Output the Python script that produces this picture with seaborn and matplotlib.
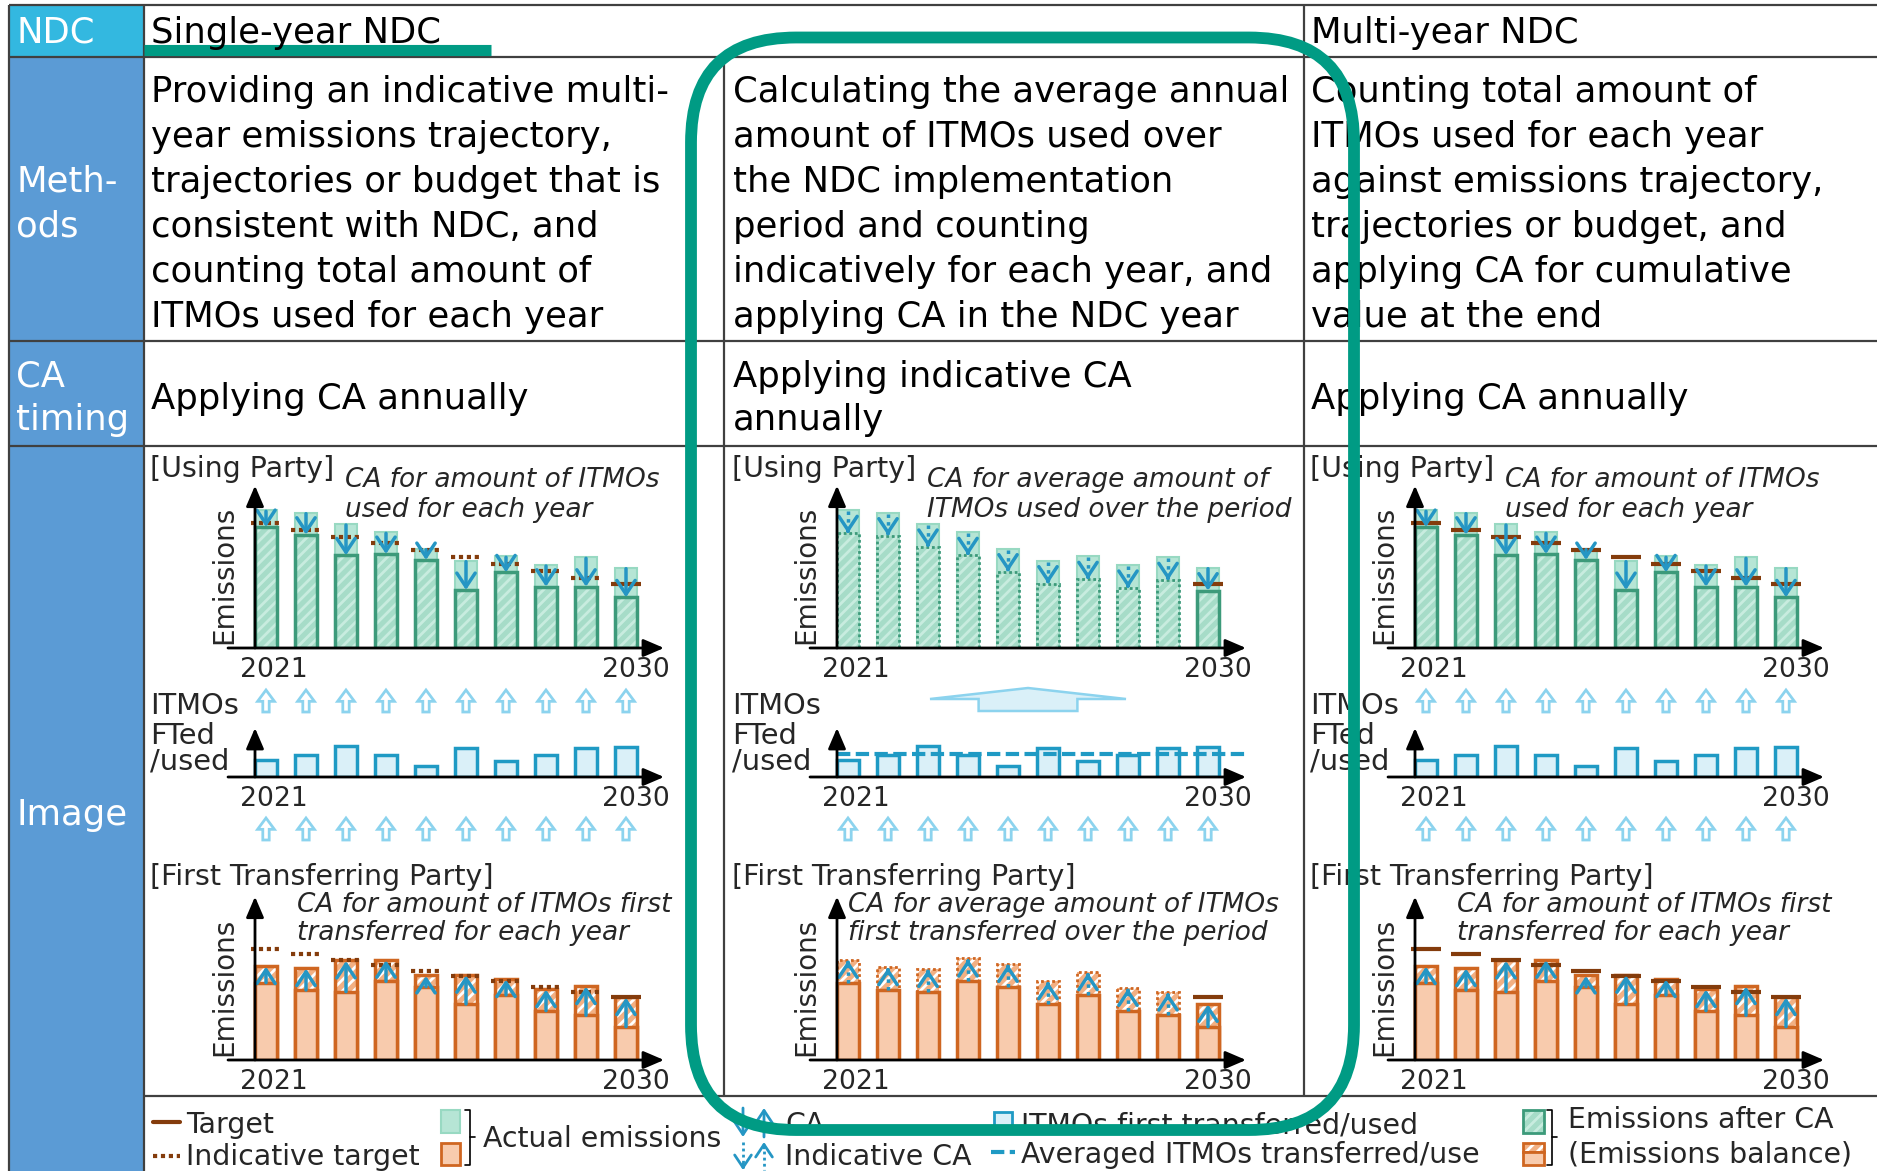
import matplotlib
matplotlib.use("Agg")
import matplotlib.pyplot as plt
from matplotlib.patches import FancyBboxPatch, FancyArrow, Rectangle
import numpy as np
import pandas as pd
import seaborn as sns

sns.set_style("white")
plt.rcParams['font.family'] = ['DejaVu Sans']
plt.rcParams['hatch.linewidth'] = 2.0

W, H = 1877, 1171

# ---- data ----
years = ['2021', '2022', '2023', '2024', '2025', '2026', '2027', '2028', '2029', '2030']
itmos = [5.0, 6.6, 9.4, 6.5, 3.4, 8.8, 4.8, 6.5, 8.8, 8.9]
using_actual = [41.3, 40.6, 37.2, 34.7, 29.8, 26.2, 27.5, 24.9, 27.2, 24.1]
using_target = [37.5, 35.5, 33.4, 31.4, 29.4, 27.3, 25.2, 23.2, 21.1, 19.1]
transfer_actual = [23.2, 21.0, 20.5, 23.6, 22.0, 16.8, 19.5, 14.8, 13.4, 10.0]
transfer_target = [33.3, 31.7, 30.0, 28.4, 26.7, 25.2, 23.6, 22.0, 20.5, 19.0]

row_labels = ['NDC', ['Meth-', 'ods'], ['CA', 'timing'], 'Image']
ndc_types = ['Single-year NDC', 'Multi-year NDC']
methods = [
    ['Providing an indicative multi-', 'year emissions trajectory,', 'trajectories or budget that is',
     'consistent with NDC, and', 'counting total amount of', 'ITMOs used for each year'],
    ['Calculating the average annual', 'amount of ITMOs used over', 'the NDC implementation',
     'period and counting', 'indicatively for each year, and', 'applying CA in the NDC year'],
    ['Counting total amount of', 'ITMOs used for each year', 'against emissions trajectory,',
     'trajectories or budget, and', 'applying CA for cumulative', 'value at the end'],
]
ca_timing = [['Applying CA annually'], ['Applying indicative CA', 'annually'], ['Applying CA annually']]
using_notes = [['CA for amount of ITMOs', 'used for each year'],
               ['CA for average amount of', 'ITMOs used over the period'],
               ['CA for amount of ITMOs', 'used for each year']]
transfer_notes = [['CA for amount of ITMOs first', 'transferred for each year'],
                  ['CA for average amount of ITMOs', 'first transferred over the period'],
                  ['CA for amount of ITMOs first', 'transferred for each year']]
modes = ['annual', 'average', 'cumulative']

# ---- colours ----
TEAL = '#009B84'
CYAN = '#33B8E0'
STEEL = '#5B9BD5'
GRID = '#404040'
MINT_LIGHT = '#B6E5D5'
MINT_LIGHT_EDGE = '#98D9C2'
MINT = '#A6DCC8'
MINT_HATCH = '#C8ECDF'
MINT_DARK = '#3C9A7A'
PEACH = '#F8CBAD'
PEACH_DARK = '#F2B083'
ORANGE = '#CF6621'
BROWN = '#843C0C'
BLUE = '#2596C4'
ICE = '#DAF0F8'
ICE_EDGE = '#1F9AC4'
SKY = '#8CD3EE'

BAR_W = 0.55
BAR_X0 = [266, 848, 1426]
UNIT_X = 40.0
UNIT_Y = 10 / 3
XLIM = (-1.05, 10.1)
YAX = -0.275
PT = 0.72

fig = plt.figure(figsize=(W / 100, H / 100), dpi=100)
bg = fig.add_axes([0, 0, 1, 1])
bg.set_xlim(0, W)
bg.set_ylim(H, 0)
bg.set_axis_off()

BODY = 25.5
SMALL = 20.5
ITAL = 19
YEAR = 19.2
LEG = 20.4


def hline(ax, x0, x1, y, **kw):
    ax.plot([x0, x1], [y, y], **kw)


# ---- table ----
bg.add_patch(Rectangle((9, 5), 135, 52, facecolor=CYAN, edgecolor='none'))
bg.add_patch(Rectangle((9, 57), 135, H - 57, facecolor=STEEL, edgecolor='none'))
line_kw = dict(color=GRID, lw=1.6, solid_capstyle='butt')
for y in [5, 57, 341, 446]:
    hline(bg, 9, W, y, **line_kw)
hline(bg, 144, W, 1096, **line_kw)
bg.plot([9, 9], [5, H], **line_kw)
bg.plot([144, 144], [5, H], **line_kw)
bg.plot([724, 724], [57, 1096], **line_kw)
bg.plot([1304, 1304], [5, 1096], **line_kw)

lab_kw = dict(color='white', fontsize=BODY, va='baseline', ha='left')
bg.text(16, 42.7, row_labels[0], **lab_kw)
bg.text(16, 191.7, row_labels[1][0], **lab_kw)
bg.text(16, 236.7, row_labels[1][1], **lab_kw)
bg.text(16, 386.7, row_labels[2][0], **lab_kw)
bg.text(16, 430, row_labels[2][1], **lab_kw)
bg.text(16, 825, row_labels[3], **lab_kw)

txt_kw = dict(color='black', fontsize=BODY, va='baseline', ha='left')
bg.text(151, 42.7, ndc_types[0], **txt_kw)
bg.text(1311, 42.7, ndc_types[1], **txt_kw)
hline(bg, 144, 491, 49.5, color=TEAL, lw=8, solid_capstyle='butt')

col_left = [151, 733, 1311]
for c in range(3):
    for k, line in enumerate(methods[c]):
        bg.text(col_left[c], 101.7 + 45 * k, line, **txt_kw)
    if len(ca_timing[c]) == 1:
        bg.text(col_left[c], 409.3, ca_timing[c][0], **txt_kw)
    else:
        bg.text(col_left[c], 386.7, ca_timing[c][0], **txt_kw)
        bg.text(col_left[c], 430, ca_timing[c][1], **txt_kw)


# ---- charts ----
def make_ax(col, base_y, ytop):
    x0 = BAR_X0[col] + XLIM[0] * UNIT_X
    x1 = BAR_X0[col] + XLIM[1] * UNIT_X
    y0 = base_y - ytop * UNIT_Y
    return fig.add_axes([x0 / W, 1 - base_y / H, (x1 - x0) / W, (base_y - y0) / H])


def finish(ax, ytop, ytip, ylabel=True):
    ax.set_xlim(*XLIM)
    ax.set_ylim(0, ytop)
    ax.set_axis_off()
    kw = dict(arrowstyle='-|>,head_length=0.7,head_width=0.3', color='black', lw=2,
              shrinkA=0, shrinkB=0, mutation_scale=18)
    ax.annotate('', xy=(YAX, ytip), xytext=(YAX, 0), arrowprops=kw, annotation_clip=False)
    ax.annotate('', xy=(9.95, 0), xytext=(-0.95, 0), arrowprops=kw, annotation_clip=False)
    for pos, lab in [(0.2, years[0]), (9.25, years[-1])]:
        ax.annotate(lab, xy=(pos, 0), xytext=(0, -29 * PT), textcoords='offset points',
                    ha='center', va='baseline', fontsize=YEAR, annotation_clip=False)
    if ylabel:
        ax.annotate('Emissions', xy=(YAX, 0), xytext=(-31 * PT, 73 * PT), textcoords='offset points',
                    ha='center', va='center', rotation=90, fontsize=20, annotation_clip=False)


def ca_arrow(ax, x, y_from, y_to, dotted):
    head = dict(arrowstyle='->,head_length=0.45,head_width=0.3', color=BLUE, lw=2.5,
                shrinkA=0, shrinkB=0, mutation_scale=22)
    if dotted:
        ax.plot([x, x], [y_from, y_to], color=BLUE, lw=2.5, ls=(0, (1, 1.2)))
        step = 0.8 if y_to < y_from else -0.8
        ax.annotate('', xy=(x, y_to), xytext=(x, y_to + step), arrowprops=head)
    else:
        ax.annotate('', xy=(x, y_to), xytext=(x, y_from), arrowprops=head)


def targets(ax, xs, tgt, mode):
    half = 0.37
    solid = dict(colors=BROWN, lw=3, linestyles='solid')
    dot = dict(colors=BROWN, lw=3, linestyles=(0, (1, 0.9)))
    if mode == 'annual':
        ax.hlines(tgt[:-1], xs[:-1] - half, xs[:-1] + half, **dot)
        ax.hlines(tgt[-1:], xs[-1:] - half, xs[-1:] + half, **solid)
    elif mode == 'average':
        ax.hlines(tgt[-1:], xs[-1:] - half, xs[-1:] + half, **solid)
    else:
        ax.hlines(tgt, xs - half, xs + half, **solid)


xs = np.arange(len(years))
avg_itmo = float(np.mean(itmos))

for c, mode in enumerate(modes):
    ca = np.full(len(years), avg_itmo) if mode == 'average' else np.array(itmos)
    indicative = mode == 'average'

    # using party
    ax = make_ax(c, 648, 50)
    u_actual = np.array(using_actual)
    u_after = u_actual - ca
    df = pd.DataFrame({'year': years, 'actual': u_actual, 'after': u_after})
    sns.barplot(data=df, x='year', y='actual', color=MINT_LIGHT, edgecolor=MINT_LIGHT_EDGE,
                linewidth=1.5, width=BAR_W, saturation=1, errorbar=None, ax=ax)
    sns.barplot(data=df, x='year', y='after', color=MINT, edgecolor=MINT_HATCH, hatch='///',
                linewidth=0, width=BAR_W, saturation=1, errorbar=None, ax=ax)
    if indicative:
        ax.bar(xs[:-1], u_after[:-1], BAR_W, fill=False, edgecolor=MINT_DARK, lw=2, ls=(0, (1, 1)))
        ax.bar(xs[-1:], u_after[-1:], BAR_W, fill=False, edgecolor=MINT_DARK, lw=2.5)
    else:
        ax.bar(xs, u_after, BAR_W, fill=False, edgecolor=MINT_DARK, lw=2.5)
    targets(ax, xs, np.array(using_target), mode)
    for i in xs:
        ca_arrow(ax, i, u_actual[i] - 0.3, u_after[i], indicative and i < len(xs) - 1)
    finish(ax, 50, 48.7)

    # ITMOs first transferred / used
    ax = make_ax(c, 777, 15)
    sns.barplot(x=years, y=itmos, color=ICE, edgecolor=ICE_EDGE, linewidth=2.5, width=BAR_W,
                saturation=1, errorbar=None, ax=ax)
    if indicative:
        ax.plot([YAX, 9.95], [avg_itmo, avg_itmo], color=ICE_EDGE, lw=3, dashes=(3.2, 1.3))
        ax.add_patch(FancyArrow(4.5, 19.8, 0, 6.9, width=2.47, head_width=4.9, head_length=3.3,
                                length_includes_head=True, facecolor=ICE, edgecolor=SKY,
                                lw=1.8, clip_on=False))
    rows = [-18.9] if indicative else [19.5, -18.9]
    for yb in rows:
        for i in xs:
            ax.add_patch(FancyArrow(i, yb, 0, 6.6, width=0.16, head_width=0.42, head_length=3.4,
                                    length_includes_head=True, facecolor='white', edgecolor=SKY,
                                    lw=2, clip_on=False))
    finish(ax, 15, 14.7, ylabel=False)

    # first transferring party
    ax = make_ax(c, 1060, 50)
    t_actual = np.array(transfer_actual)
    t_bal = t_actual + ca
    df = pd.DataFrame({'year': years, 'actual': t_actual, 'balance': t_bal})
    sns.barplot(data=df, x='year', y='balance', color=PEACH_DARK, edgecolor='white', hatch='///',
                linewidth=0, width=BAR_W, saturation=1, errorbar=None, ax=ax)
    if indicative:
        ax.bar(xs[:-1], t_bal[:-1], BAR_W, fill=False, edgecolor=ORANGE, lw=2, ls=(0, (1, 1)))
        ax.bar(xs[-1:], t_bal[-1:], BAR_W, fill=False, edgecolor=ORANGE, lw=2.5)
    else:
        ax.bar(xs, t_bal, BAR_W, fill=False, edgecolor=ORANGE, lw=2.5)
    sns.barplot(data=df, x='year', y='actual', color=PEACH, edgecolor=ORANGE, linewidth=2.5,
                width=BAR_W, saturation=1, errorbar=None, ax=ax)
    targets(ax, xs, np.array(transfer_target), mode)
    for i in xs:
        ca_arrow(ax, i, t_actual[i], t_bal[i] - 0.2, indicative and i < len(xs) - 1)
    finish(ax, 50, 49)

    # panel texts
    off = [0, 582, 1160][c]
    small = dict(fontsize=SMALL, va='baseline', ha='left')
    ital = dict(fontsize=ITAL, va='baseline', ha='left', style='italic')
    bg.text(150 + off, 476.7, '[Using Party]', **small)
    bg.text(345 + off, 487, using_notes[c][0], **ital)
    bg.text(345 + off, 517, using_notes[c][1], **ital)
    bg.text(150 + off, 714, 'ITMOs', fontsize=20.8, va='baseline')
    bg.text(150 + off, 744, 'FTed', fontsize=20.8, va='baseline')
    bg.text(150 + off, 770, '/used', fontsize=20.8, va='baseline')
    bg.text(150 + off, 885, '[First Transferring Party]', **small)
    tx = [297, 848, 1457][c]
    bg.text(tx, 912, transfer_notes[c][0], **ital)
    bg.text(tx, 940, transfer_notes[c][1], **ital)

# ---- legend row ----
hline(bg, 153, 180, 1122, color=BROWN, lw=3)
bg.text(186, 1133, 'Target', fontsize=LEG, va='baseline')
hline(bg, 153, 180, 1156, color=BROWN, lw=3, ls=(0, (1, 0.9)))
bg.text(186, 1165, 'Indicative target', fontsize=LEG, va='baseline')
bg.add_patch(Rectangle((441, 1110), 19, 23, facecolor=MINT_LIGHT, edgecolor=MINT_LIGHT_EDGE, lw=1.5))
bg.add_patch(Rectangle((441, 1143), 19, 22, facecolor=PEACH, edgecolor=ORANGE, lw=2))
bg.plot([465, 470, 470, 465], [1110, 1110, 1165, 1165], color='black', lw=1.2)
hline(bg, 470, 475, 1137, color='black', lw=1.2)
bg.text(483, 1147, 'Actual emissions', fontsize=LEG, va='baseline')

head = dict(arrowstyle='->,head_length=0.45,head_width=0.3', color=BLUE, lw=2,
            shrinkA=0, shrinkB=0, mutation_scale=20)
bg.annotate('', xy=(743, 1137), xytext=(743, 1108), arrowprops=head)
bg.annotate('', xy=(764, 1108), xytext=(764, 1137), arrowprops=head)
bg.plot([743, 743], [1142, 1168], color=BLUE, lw=2, ls=(0, (1, 1.2)))
bg.annotate('', xy=(743, 1170), xytext=(743, 1164), arrowprops=head)
bg.plot([764, 764], [1145, 1170], color=BLUE, lw=2, ls=(0, (1, 1.2)))
bg.annotate('', xy=(764, 1142), xytext=(764, 1148), arrowprops=head)
bg.text(785, 1133, 'CA', fontsize=LEG, va='baseline')
bg.text(785, 1165, 'Indicative CA', fontsize=LEG, va='baseline')

bg.add_patch(Rectangle((994, 1112), 18, 21, facecolor=ICE, edgecolor=ICE_EDGE, lw=2))
bg.text(1021, 1133, 'ITMOs first transferred/used', fontsize=LEG, va='baseline')
hline(bg, 991, 1015, 1152, color=ICE_EDGE, lw=3, dashes=(3.2, 1.3))
bg.text(1021, 1163, 'Averaged ITMOs transferred/use', fontsize=LEG, va='baseline')

bg.add_patch(Rectangle((1523, 1110), 21, 23, facecolor=MINT, edgecolor=MINT_HATCH, hatch='///', lw=0))
bg.add_patch(Rectangle((1523, 1110), 21, 23, fill=False, edgecolor=MINT_DARK, lw=2))
bg.add_patch(Rectangle((1523, 1143), 21, 9, facecolor=PEACH_DARK, edgecolor='white', hatch='///', lw=0))
bg.add_patch(Rectangle((1523, 1143), 21, 9, fill=False, edgecolor=ORANGE, lw=2))
bg.add_patch(Rectangle((1523, 1152), 21, 13, facecolor=PEACH, edgecolor=ORANGE, lw=2))
bg.plot([1547, 1552, 1552, 1547], [1110, 1110, 1165, 1165], color='black', lw=1.2)
hline(bg, 1552, 1557, 1137, color='black', lw=1.2)
bg.text(1568, 1128, 'Emissions after CA', fontsize=LEG, va='baseline')
bg.text(1568, 1162, '(Emissions balance)', fontsize=LEG, va='baseline')

# ---- highlight frame on top ----
ov = fig.add_axes([0, 0, 1, 1])
ov.set_xlim(0, W)
ov.set_ylim(H, 0)
ov.set_axis_off()
ov.patch.set_alpha(0)
ov.add_patch(FancyBboxPatch((691, 37.5), 1354 - 691, 1130 - 37.5,
                            boxstyle='round,pad=0,rounding_size=105',
                            fill=False, edgecolor=TEAL, lw=8.5))

fig.savefig('out.png', dpi=100)
